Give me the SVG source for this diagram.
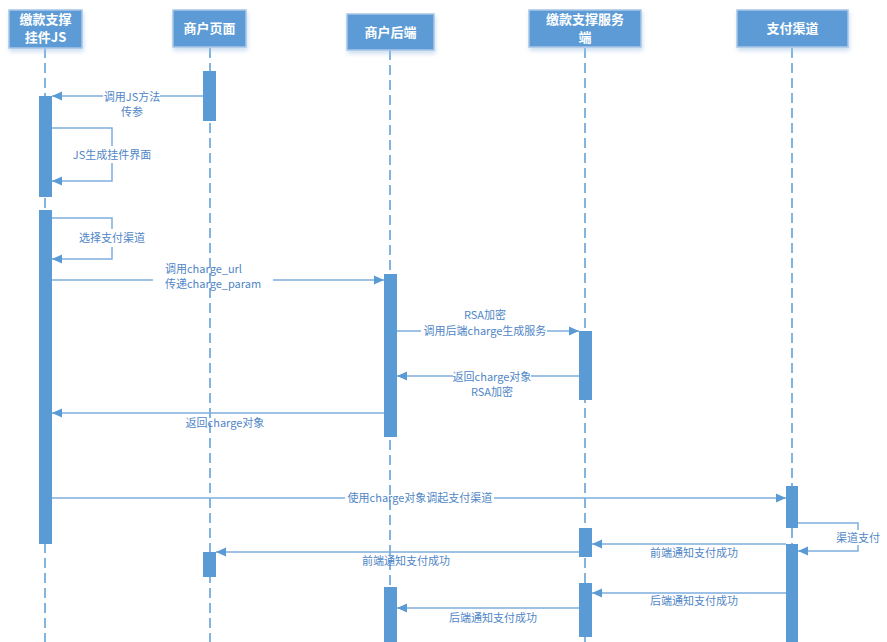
<svg xmlns="http://www.w3.org/2000/svg" width="887" height="642" viewBox="0 0 887 642">
<defs>
<style>
.hdr{fill:#5B9BD5;stroke:#A9C6E6;stroke-width:1.5}
.ht{font-family:"Noto Sans CJK SC","Noto Sans",sans-serif;font-size:13px;font-weight:bold;fill:#fff;text-anchor:middle}
.life{stroke:#5B9BD5;stroke-width:1.5;stroke-dasharray:10 5;fill:none}
.act{fill:#5B9BD5}
.msg{stroke:#7EAEDE;stroke-width:1.5;fill:none}
.lbl{font-family:"Noto Sans CJK SC","Noto Sans",sans-serif;font-size:11px;fill:#4F86C6;text-anchor:middle}
</style>
<marker id="ah" markerWidth="10" markerHeight="10" refX="10" refY="5" orient="auto" markerUnits="userSpaceOnUse">
<path d="M0,0.5 L10,5 L0,9.5 Z" fill="#5B9BD5"/>
</marker>
<filter id="sh" x="-10%" y="-10%" width="130%" height="140%">
<feDropShadow dx="1" dy="3" stdDeviation="2" flood-color="#9DBFE3" flood-opacity="0.5"/>
</filter>
</defs>
<rect width="887" height="642" fill="#fff"/>

<g id="lifelines">
<line class="life" x1="45" y1="48" x2="45" y2="642"/>
<line class="life" x1="210" y1="48" x2="210" y2="642"/>
<line class="life" x1="390" y1="50" x2="390" y2="642"/>
<line class="life" x1="585" y1="48" x2="585" y2="642"/>
<line class="life" x1="792" y1="48" x2="792" y2="642"/>
</g>

<g id="connectors">
<!-- 调用JS方法 -->
<line class="msg" x1="203" y1="96" x2="160" y2="96"/>
<line class="msg" x1="103" y1="96" x2="52" y2="96" marker-end="url(#ah)"/>
<!-- JS生成挂件界面 -->
<polyline class="msg" points="52,128 112,128 112,146"/>
<polyline class="msg" points="112,163 112,181 52,181" marker-end="url(#ah)"/>
<!-- 选择支付渠道 -->
<polyline class="msg" points="52,218 112,218 112,229"/>
<polyline class="msg" points="112,247 112,259 52,259" marker-end="url(#ah)"/>
<!-- charge_url -->
<line class="msg" x1="52" y1="280" x2="153" y2="280"/>
<line class="msg" x1="273" y1="280" x2="384" y2="280" marker-end="url(#ah)"/>
<!-- RSA加密 调用后端 -->
<line class="msg" x1="397" y1="331" x2="421" y2="331"/>
<line class="msg" x1="547" y1="331" x2="579" y2="331" marker-end="url(#ah)"/>
<!-- 返回charge对象 RSA -->
<line class="msg" x1="579" y1="376" x2="531" y2="376"/>
<line class="msg" x1="453" y1="376" x2="397" y2="376" marker-end="url(#ah)"/>
<!-- 返回charge对象 -->
<line class="msg" x1="384" y1="413" x2="52" y2="413" marker-end="url(#ah)"/>
<!-- 使用charge对象调起支付渠道 -->
<line class="msg" x1="52" y1="498" x2="345" y2="498"/>
<line class="msg" x1="494" y1="498" x2="786" y2="498" marker-end="url(#ah)"/>
<!-- 渠道支付 -->
<polyline class="msg" points="798,523 858,523 858,530"/>
<polyline class="msg" points="858,545 858,551 798,551" marker-end="url(#ah)"/>
<!-- 前端通知支付成功 -->
<line class="msg" x1="786" y1="544" x2="592" y2="544" marker-end="url(#ah)"/>
<line class="msg" x1="579" y1="552" x2="216" y2="552" marker-end="url(#ah)"/>
<!-- 后端通知支付成功 -->
<line class="msg" x1="786" y1="593" x2="592" y2="593" marker-end="url(#ah)"/>
<line class="msg" x1="579" y1="608" x2="397" y2="608" marker-end="url(#ah)"/>
</g>

<g id="activations">
<rect class="act" x="203" y="71" width="13" height="50"/>
<rect class="act" x="39" y="96" width="13" height="101"/>
<rect class="act" x="39" y="210" width="13" height="334"/>
<rect class="act" x="384" y="274" width="13" height="163"/>
<rect class="act" x="579" y="331" width="13" height="69"/>
<rect class="act" x="786" y="486" width="12" height="42"/>
<rect class="act" x="579" y="528" width="13" height="29"/>
<rect class="act" x="786" y="544" width="12" height="98"/>
<rect class="act" x="203" y="552" width="13" height="25"/>
<rect class="act" x="579" y="583" width="13" height="54"/>
<rect class="act" x="384" y="587" width="13" height="55"/>
</g>

<g id="node-js">
<rect class="hdr" x="9" y="10" width="73" height="38" filter="url(#sh)"/>
<text class="ht" x="45.5" y="24">缴款支撑</text>
<text class="ht" x="45.5" y="42">挂件JS</text>
</g>
<g id="node-page">
<rect class="hdr" x="173" y="10" width="73" height="37" filter="url(#sh)"/>
<text class="ht" x="209.5" y="33">商户页面</text>
</g>
<g id="node-backend">
<rect class="hdr" x="347" y="14" width="87" height="36" filter="url(#sh)"/>
<text class="ht" x="390.5" y="37">商户后端</text>
</g>
<g id="node-service">
<rect class="hdr" x="529" y="10" width="112" height="37" filter="url(#sh)"/>
<text class="ht" x="585" y="24">缴款支撑服务</text>
<text class="ht" x="585" y="42">端</text>
</g>
<g id="node-channel">
<rect class="hdr" x="737" y="10" width="111" height="37" filter="url(#sh)"/>
<text class="ht" x="792.5" y="33">支付渠道</text>
</g>

<g id="labels">
<text class="lbl" x="132" y="101">调用JS方法</text>
<text class="lbl" x="132" y="116">传参</text>
<text class="lbl" x="112" y="159">JS生成挂件界面</text>
<text class="lbl" x="112" y="242">选择支付渠道</text>
<text class="lbl" x="165" y="273" text-anchor="start" style="text-anchor:start">调用charge_url</text>
<text class="lbl" x="165" y="288" style="text-anchor:start">传递charge_param</text>
<text class="lbl" x="485" y="319">RSA加密</text>
<text class="lbl" x="485" y="335">调用后端charge生成服务</text>
<text class="lbl" x="492" y="381">返回charge对象</text>
<text class="lbl" x="492" y="396">RSA加密</text>
<text class="lbl" x="225" y="427">返回charge对象</text>
<text class="lbl" x="420" y="502">使用charge对象调起支付渠道</text>
<text class="lbl" x="858" y="542">渠道支付</text>
<text class="lbl" x="694" y="557">前端通知支付成功</text>
<text class="lbl" x="406" y="565">前端通知支付成功</text>
<text class="lbl" x="694" y="605">后端通知支付成功</text>
<text class="lbl" x="493" y="622">后端通知支付成功</text>
</g>
</svg>
